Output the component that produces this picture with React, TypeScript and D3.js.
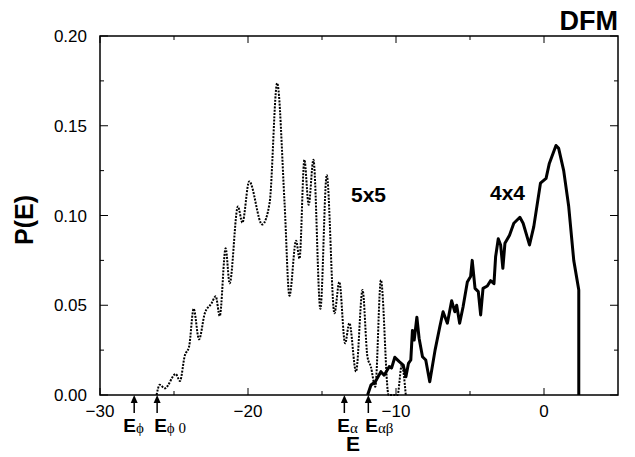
import React from "react";
import * as d3 from "d3";

const W = 635, H = 457;
const margin = { left: 100, right: 17, top: 36, bottom: 62 };

// 5x5 series (dotted)
const E5 = [-26.18, -25.96, -25.62, -24.88, -24.6, -24.27, -23.98, -23.67, -23.31, -22.92, -22.47, -22.18, -21.91, -21.51, -21.24, -20.68, -20.38, -19.92, -19.04, -18.54, -18.03, -17.53, -17.2, -16.75, -16.52, -16.19, -15.9, -15.58, -15.11, -14.68, -14.16, -13.83, -13.44, -13.15, -12.7, -12.26, -11.93, -11.7, -11.4, -11.02, -10.5, -9.9, -9.61, -9.34];
const P5 = [0, 0.0057, 0.0037, 0.0117, 0.0078, 0.022, 0.027, 0.048, 0.031, 0.0455, 0.051, 0.055, 0.044, 0.0817, 0.0622, 0.105, 0.096, 0.119, 0.095, 0.107, 0.1737, 0.107, 0.0553, 0.086, 0.076, 0.131, 0.106, 0.131, 0.048, 0.1226, 0.0455, 0.063, 0.0288, 0.04, 0.013, 0.0585, 0.0213, 0.0158, 0.0046, 0.064, 0, 0, 0.0167, 0];

// 4x4 series (solid)
const E4 = [-11.92, -11.69, -11.4, -11.02, -10.8, -10.46, -10.3, -10.08, -9.78, -9.51, -9.33, -9.16, -9.0, -8.89, -8.77, -8.59, -8.44, -8.21, -7.99, -7.72, -7.36, -7.04, -6.82, -6.53, -6.24, -6.03, -5.9, -5.7, -5.47, -5.18, -4.96, -4.85, -4.66, -4.44, -4.28, -4.12, -3.83, -3.61, -3.38, -3.27, -3.09, -2.93, -2.78, -2.64, -2.33, -2.04, -1.63, -1.41, -0.98, -0.69, -0.24, 0.14, 0.36, 0.81, 0.99, 1.33, 1.67, 2.01, 2.35, 2.35];
const P4 = [0, 0.0056, 0.0074, 0.013, 0.011, 0.0158, 0.015, 0.021, 0.0186, 0.0167, 0.0102, 0.0176, 0.0195, 0.036, 0.0306, 0.0433, 0.0316, 0.0213, 0.0195, 0.0074, 0.025, 0.038, 0.0464, 0.04, 0.0525, 0.0464, 0.05, 0.04, 0.049, 0.063, 0.066, 0.075, 0.0594, 0.0576, 0.0446, 0.0594, 0.0607, 0.0637, 0.062, 0.077, 0.087, 0.0836, 0.0706, 0.0845, 0.089, 0.0957, 0.099, 0.0957, 0.0836, 0.0938, 0.118, 0.1207, 0.129, 0.139, 0.1374, 0.125, 0.105, 0.075, 0.0585, 0];

const xMajor = [-30, -20, -10, 0];
const xMinor = [-25, -15, -5];
const yMajor = [0, 0.05, 0.1, 0.15, 0.2];
const yMinor = [0.025, 0.075, 0.125, 0.175];

const markerE = [-27.69, -26.14, -13.49, -11.87];
const markerSub = ["ϕ", "ϕ 0", "α", "αβ"];
const markerDx = [-11, -3, -7, -3];

const SANS = "'Liberation Sans', Arial, Helvetica, sans-serif";
const SERIF = "'Liberation Serif', 'Times New Roman', serif";

export default function App() {
  const x = d3.scaleLinear().domain([-30, 5]).range([margin.left, W - margin.right]);
  const y = d3.scaleLinear().domain([0, 0.2]).range([H - margin.bottom, margin.top]);
  const x0 = x.range()[0], x1 = x.range()[1];
  const y0 = y.range()[0], y1 = y.range()[1];

  const d5 = E5.map((e, i) => [e, P5[i]] as [number, number]);
  const d4 = E4.map((e, i) => [e, P4[i]] as [number, number]);
  const line5 = d3.line<[number, number]>().x(d => x(d[0])).y(d => y(d[1])).curve(d3.curveMonotoneX);
  const line4 = d3.line<[number, number]>().x(d => x(d[0])).y(d => y(d[1]));

  const fmtY = (v: number) => v.toFixed(2);
  const fmtX = (v: number) => (v < 0 ? "\u2212" + Math.abs(v) : String(v));

  return (
    <svg width={W} height={H} style={{ position: "absolute", left: 0, top: 0, background: "#fff" }}>
      <rect x={0} y={0} width={W} height={H} fill="#fff" />
      {/* curves */}
      <path d={line5(d5) || ""} fill="none" stroke="#000" strokeWidth={2} strokeDasharray="2,1.3" />
      <path d={line4(d4) || ""} fill="none" stroke="#000" strokeWidth={3} strokeLinejoin="round" />

      {/* frame */}
      <rect x={x0} y={y1} width={x1 - x0} height={y0 - y1} fill="none" stroke="#000" strokeWidth={1.5} />

      {/* x ticks */}
      {xMajor.map(v => (
        <g key={"xm" + v}>
          <line x1={x(v)} x2={x(v)} y1={y0} y2={y0 - 7} stroke="#000" strokeWidth={1} />
          <line x1={x(v)} x2={x(v)} y1={y1} y2={y1 + 7} stroke="#000" strokeWidth={1} />
          <text x={x(v)} y={y0 + 22} textAnchor="middle" fontFamily={SANS} fontSize={17}>{fmtX(v)}</text>
        </g>
      ))}
      {xMinor.map(v => (
        <g key={"xn" + v}>
          <line x1={x(v)} x2={x(v)} y1={y0} y2={y0 - 4} stroke="#000" strokeWidth={1} />
          <line x1={x(v)} x2={x(v)} y1={y1} y2={y1 + 4} stroke="#000" strokeWidth={1} />
        </g>
      ))}
      {/* y ticks */}
      {yMajor.map(v => (
        <g key={"ym" + v}>
          <line x1={x0} x2={x0 + 8} y1={y(v)} y2={y(v)} stroke="#000" strokeWidth={1} />
          <line x1={x1} x2={x1 - 8} y1={y(v)} y2={y(v)} stroke="#000" strokeWidth={1} />
          <text x={x0 - 13} y={y(v) + 6} textAnchor="end" fontFamily={SANS} fontSize={17}>{fmtY(v)}</text>
        </g>
      ))}
      {yMinor.map(v => (
        <g key={"yn" + v}>
          <line x1={x0} x2={x0 + 4} y1={y(v)} y2={y(v)} stroke="#000" strokeWidth={1} />
          <line x1={x1} x2={x1 - 4} y1={y(v)} y2={y(v)} stroke="#000" strokeWidth={1} />
        </g>
      ))}

      {/* markers */}
      {markerE.map((e, i) => {
        const px = x(e);
        return (
          <g key={"mk" + i}>
            <line x1={px} x2={px} y1={y0 + 18} y2={y0 + 5} stroke="#000" strokeWidth={1.5} />
            <path d={`M${px},${y0} L${px - 3.5},${y0 + 8} L${px + 3.5},${y0 + 8} Z`} fill="#000" />
            <text x={px + markerDx[i]} y={y0 + 37} fontFamily={SANS} fontWeight="bold" fontSize={19}>
              E<tspan fontFamily={SERIF} fontWeight="normal" fontSize={15} dy={1}>{markerSub[i]}</tspan>
            </text>
          </g>
        );
      })}

      {/* axis labels */}
      <text x={353} y={451} textAnchor="middle" fontFamily={SANS} fontWeight="bold" fontSize={21}>E</text>
      <text transform={`translate(33,220) rotate(-90)`} textAnchor="middle" fontFamily={SANS} fontWeight="bold" fontSize={25}>P(E)</text>

      <text x={x1} y={30} textAnchor="end" fontFamily={SANS} fontWeight="bold" fontSize={27}>DFM</text>
      <text x={351} y={201.5} fontFamily={SANS} fontWeight="bold" fontSize={21}>5x5</text>
      <text x={490} y={200} fontFamily={SANS} fontWeight="bold" fontSize={21}>4x4</text>
    </svg>
  );
}
